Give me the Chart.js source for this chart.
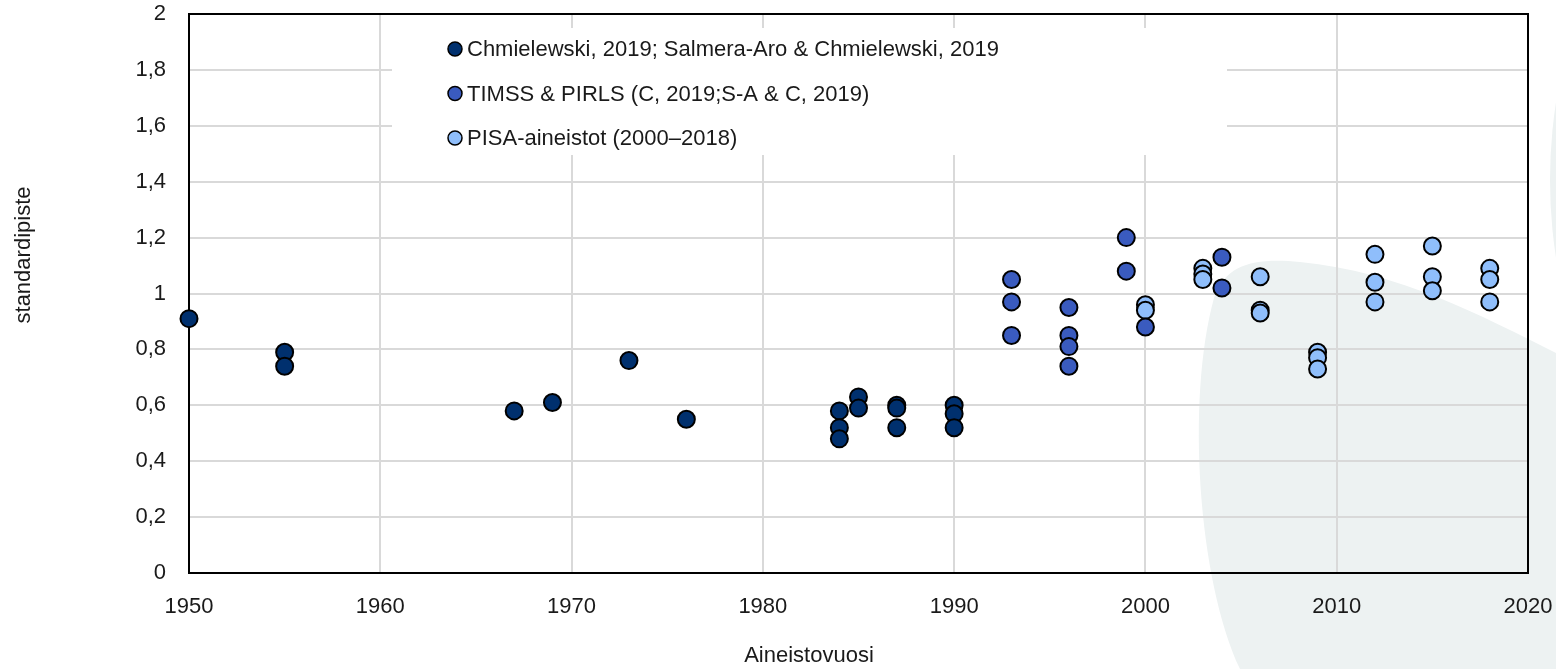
<!DOCTYPE html>
<html>
<head>
<meta charset="utf-8">
<script src="https://cdn.jsdelivr.net/npm/chart.js@4/dist/chart.umd.min.js"></script>
<style>
  html, body { margin: 0; padding: 0; background: #ffffff; }
  #c { display: block; }
</style>
</head>
<body>
<canvas id="c" width="1556" height="669"></canvas>
<script>
// ---- Data ----
const seriesNames = [
  'Chmielewski, 2019; Salmera-Aro & Chmielewski, 2019',
  'TIMSS & PIRLS (C, 2019;S-A & C, 2019)',
  'PISA-aineistot (2000\u20132018)'
];
const years1  = [1950, 1955, 1955, 1967, 1969, 1973, 1976, 1984, 1984, 1984, 1985, 1985, 1987, 1987, 1987, 1990, 1990, 1990];
const values1 = [0.91, 0.79, 0.74, 0.58, 0.61, 0.76, 0.55, 0.58, 0.52, 0.48, 0.63, 0.59, 0.60, 0.59, 0.52, 0.60, 0.57, 0.52];
const years2  = [1993, 1993, 1993, 1996, 1996, 1996, 1996, 1999, 1999, 2000, 2004, 2004];
const values2 = [1.05, 0.97, 0.85, 0.95, 0.85, 0.81, 0.74, 1.20, 1.08, 0.88, 1.13, 1.02];
const years3  = [2000, 2000, 2003, 2003, 2003, 2006, 2006, 2006, 2009, 2009, 2009, 2012, 2012, 2012, 2015, 2015, 2015, 2018, 2018, 2018];
const values3 = [0.96, 0.94, 1.09, 1.07, 1.05, 1.06, 0.94, 0.93, 0.79, 0.77, 0.73, 1.14, 1.04, 0.97, 1.17, 1.06, 1.01, 1.09, 1.05, 0.97];
const xTickLabels = ['1950', '1960', '1970', '1980', '1990', '2000', '2010', '2020'];
const yTickLabels = ['0', '0,2', '0,4', '0,6', '0,8', '1', '1,2', '1,4', '1,6', '1,8', '2'];
const xTitle = 'Aineistovuosi';
const yTitle = 'standardipiste';

// ---- Styles ----
const colors = ['#00306e', '#3a5bbf', '#8fbefb'];
const FONT = "'Liberation Sans', Arial, sans-serif";
const FSIZE = 22;
const TEXT = '#1a1a1a';

function pts(xs, ys) { return xs.map((x, i) => ({ x: x, y: ys[i] })); }

const bgPlugin = {
  id: 'bgShape',
  beforeDraw(chart) {
    const ctx = chart.ctx;
    ctx.save();
    ctx.fillStyle = '#edf2f2';
    ctx.beginPath();
    ctx.moveTo(1240, 669);
    ctx.bezierCurveTo(1198, 580, 1186, 400, 1214, 298);
    ctx.bezierCurveTo(1226, 262, 1258, 258, 1300, 262);
    ctx.bezierCurveTo(1400, 272, 1480, 315, 1556, 353);
    ctx.lineTo(1556, 669);
    ctx.closePath();
    ctx.fill();
    ctx.beginPath();
    ctx.arc(2057, 180, 507, 0, Math.PI * 2);
    ctx.fill();
    ctx.restore();
  }
};

const legendPlugin = {
  id: 'boxLegend',
  beforeDatasetsDraw(chart) {
    const ctx = chart.ctx;
    const a = chart.chartArea;
    ctx.save();
    // white legend box hiding the grid
    ctx.fillStyle = '#ffffff';
    ctx.fillRect(392, 28, 1227 - 392, 155 - 28);
    // plot frame
    ctx.strokeStyle = '#000';
    ctx.lineWidth = 2;
    ctx.strokeRect(a.left, a.top, a.right - a.left, a.bottom - a.top);
    // legend entries
    const rows = [49, 93.5, 138];
    ctx.font = FSIZE + 'px ' + FONT;
    ctx.textBaseline = 'middle';
    ctx.textAlign = 'left';
    seriesNames.forEach((name, i) => {
      ctx.beginPath();
      ctx.arc(455, rows[i], 7, 0, Math.PI * 2);
      ctx.fillStyle = colors[i];
      ctx.fill();
      ctx.lineWidth = 1.5;
      ctx.strokeStyle = '#000';
      ctx.stroke();
      ctx.fillStyle = TEXT;
      ctx.fillText(name, 467, rows[i] + 1);
    });
    ctx.restore();
  },
  afterDraw(chart) {
    const ctx = chart.ctx;
    ctx.save();
    ctx.fillStyle = TEXT;
    ctx.font = FSIZE + 'px ' + FONT;
    ctx.textAlign = 'center';
    ctx.textBaseline = 'middle';
    ctx.fillText(xTitle, 809, 656);
    ctx.translate(24, 255);
    ctx.rotate(-Math.PI / 2);
    ctx.fillText(yTitle, 0, 0);
    ctx.restore();
  }
};

function ds(label, xs, ys, color) {
  return {
    label: label,
    data: pts(xs, ys),
    backgroundColor: color,
    borderColor: '#000',
    borderWidth: 2,
    pointRadius: 8.5,
    pointHoverRadius: 8.5,
    clip: false
  };
}

new Chart(document.getElementById('c'), {
  type: 'scatter',
  data: {
    datasets: [
      ds(seriesNames[0], years1, values1, colors[0]),
      ds(seriesNames[1], years2, values2, colors[1]),
      ds(seriesNames[2], years3, values3, colors[2])
    ]
  },
  plugins: [bgPlugin, legendPlugin],
  options: {
    responsive: false,
    animation: false,
    devicePixelRatio: 1,
    layout: { padding: { top: 14, right: 28, left: 0, bottom: 0 } },
    plugins: { legend: { display: false }, tooltip: { enabled: false } },
    scales: {
      x: {
        type: 'linear',
        min: 1950, max: 2020,
        afterFit(s) { s.height = 96; s.paddingLeft = 0; s.paddingRight = 0; },
        ticks: {
          stepSize: 10,
          padding: 21,
          color: TEXT,
          font: { family: FONT, size: FSIZE },
          maxRotation: 0,
          autoSkip: false,
          callback: (v, i) => xTickLabels[i]
        },
        grid: { color: '#d9d9d9', lineWidth: 2, drawTicks: false },
        border: { display: true, color: '#000', width: 2 }
      },
      y: {
        min: 0, max: 2,
        afterFit(s) { s.width = 189; s.paddingTop = 0; s.paddingBottom = 0; },
        ticks: {
          stepSize: 0.2,
          padding: 23,
          color: TEXT,
          font: { family: FONT, size: FSIZE },
          autoSkip: false,
          callback: (v, i) => yTickLabels[i]
        },
        grid: { color: '#d9d9d9', lineWidth: 2, drawTicks: false },
        border: { display: true, color: '#000', width: 2 }
      }
    }
  }
});
</script>
</body>
</html>
